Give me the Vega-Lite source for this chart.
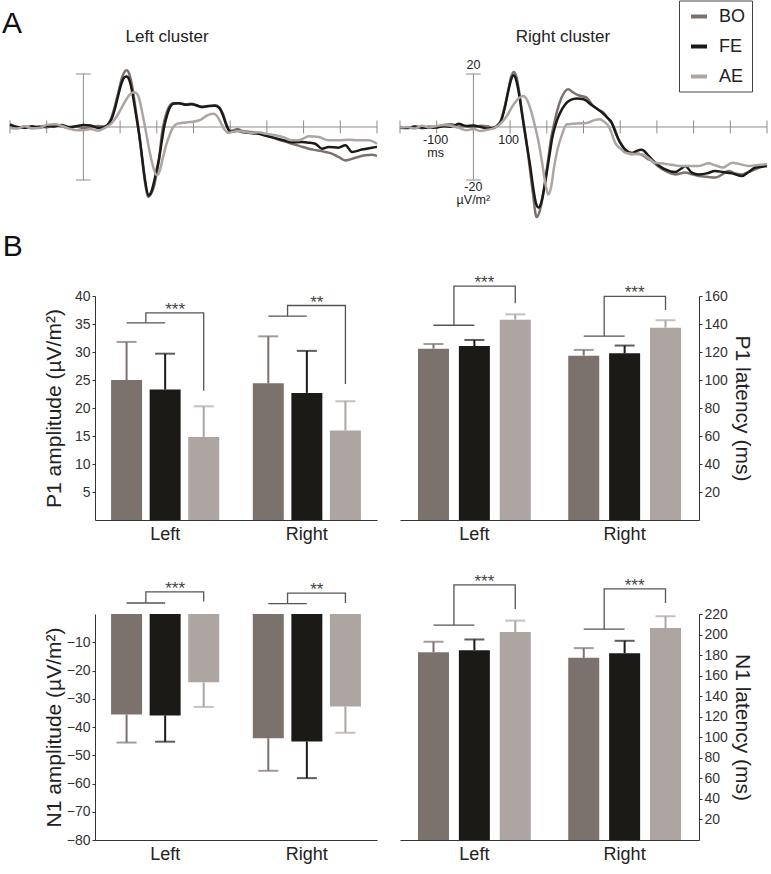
{
"$schema": "https://vega.github.io/schema/vega-lite/v6.json",
"padding": {"left": 1, "top": 0, "right": 2, "bottom": 2},
"config": {"font": "Liberation Sans", "view": {"stroke": null}, "axis": {"grid": false, "labelOverlap": false}},
"columns": 2,
"bounds": "flush",
"align": {"row": "each", "column": "none"},
"spacing": {"row": 94, "column": 13},
"resolve": {"scale": {"color": "shared", "xOffset": "independent"}, "legend": {"color": "independent"}},
"datasets": {
"erp": [
{"c":"L","k":"BO","t":-200,"v":0.5},{"c":"L","k":"BO","t":-180,"v":-0.3},{"c":"L","k":"BO","t":-160,"v":0.2},{"c":"L","k":"BO","t":-140,"v":-0.5},{"c":"L","k":"BO","t":-120,"v":0.3},{"c":"L","k":"BO","t":-100,"v":-0.2},{"c":"L","k":"BO","t":-80,"v":0.6},{"c":"L","k":"BO","t":-60,"v":0.3},{"c":"L","k":"BO","t":-40,"v":-0.4},{"c":"L","k":"BO","t":-20,"v":0.2},{"c":"L","k":"BO","t":0,"v":-0.5},{"c":"L","k":"BO","t":20,"v":-0.2},{"c":"L","k":"BO","t":40,"v":0.4},{"c":"L","k":"BO","t":55,"v":0.2},{"c":"L","k":"BO","t":65,"v":0.8},{"c":"L","k":"BO","t":75,"v":3},{"c":"L","k":"BO","t":85,"v":7.5},{"c":"L","k":"BO","t":95,"v":13},{"c":"L","k":"BO","t":105,"v":18.5},{"c":"L","k":"BO","t":112,"v":20.8},{"c":"L","k":"BO","t":118,"v":21.4},{"c":"L","k":"BO","t":125,"v":20},{"c":"L","k":"BO","t":132,"v":16},{"c":"L","k":"BO","t":140,"v":9},{"c":"L","k":"BO","t":147,"v":2.5},{"c":"L","k":"BO","t":153,"v":-3.5},{"c":"L","k":"BO","t":160,"v":-12},{"c":"L","k":"BO","t":168,"v":-21},{"c":"L","k":"BO","t":177,"v":-26.4},{"c":"L","k":"BO","t":185,"v":-25},{"c":"L","k":"BO","t":192,"v":-22.6},{"c":"L","k":"BO","t":200,"v":-17},{"c":"L","k":"BO","t":206,"v":-12.6},{"c":"L","k":"BO","t":214,"v":-2.5},{"c":"L","k":"BO","t":220,"v":2},{"c":"L","k":"BO","t":228,"v":6},{"c":"L","k":"BO","t":236,"v":8.2},{"c":"L","k":"BO","t":245,"v":9.1},{"c":"L","k":"BO","t":260,"v":9},{"c":"L","k":"BO","t":280,"v":8.6},{"c":"L","k":"BO","t":295,"v":8.8},{"c":"L","k":"BO","t":310,"v":8},{"c":"L","k":"BO","t":323,"v":7.5},{"c":"L","k":"BO","t":340,"v":7.8},{"c":"L","k":"BO","t":359,"v":8.2},{"c":"L","k":"BO","t":370,"v":7.5},{"c":"L","k":"BO","t":380,"v":5},{"c":"L","k":"BO","t":390,"v":1},{"c":"L","k":"BO","t":400,"v":-1.5},{"c":"L","k":"BO","t":410,"v":-1.2},{"c":"L","k":"BO","t":420,"v":-0.8},{"c":"L","k":"BO","t":432,"v":-1.5},{"c":"L","k":"BO","t":450,"v":-1.8},{"c":"L","k":"BO","t":477,"v":-2.3},{"c":"L","k":"BO","t":500,"v":-3},{"c":"L","k":"BO","t":523,"v":-4.4},{"c":"L","k":"BO","t":545,"v":-5.3},{"c":"L","k":"BO","t":568,"v":-6.3},{"c":"L","k":"BO","t":590,"v":-7.2},{"c":"L","k":"BO","t":614,"v":-8.2},{"c":"L","k":"BO","t":636,"v":-8.8},{"c":"L","k":"BO","t":659,"v":-9.4},{"c":"L","k":"BO","t":680,"v":-10.2},{"c":"L","k":"BO","t":695,"v":-11.3},{"c":"L","k":"BO","t":714,"v":-12.6},{"c":"L","k":"BO","t":741,"v":-11.6},{"c":"L","k":"BO","t":768,"v":-10.7},{"c":"L","k":"BO","t":785,"v":-10.5},{"c":"L","k":"BO","t":800,"v":-10.9},
{"c":"L","k":"FE","t":-200,"v":1},{"c":"L","k":"FE","t":-180,"v":0},{"c":"L","k":"FE","t":-160,"v":-0.3},{"c":"L","k":"FE","t":-140,"v":0.3},{"c":"L","k":"FE","t":-120,"v":-0.2},{"c":"L","k":"FE","t":-100,"v":0.4},{"c":"L","k":"FE","t":-80,"v":0.2},{"c":"L","k":"FE","t":-60,"v":0.8},{"c":"L","k":"FE","t":-40,"v":0},{"c":"L","k":"FE","t":-20,"v":0.3},{"c":"L","k":"FE","t":0,"v":0.8},{"c":"L","k":"FE","t":20,"v":0.6},{"c":"L","k":"FE","t":40,"v":-0.4},{"c":"L","k":"FE","t":55,"v":-0.1},{"c":"L","k":"FE","t":65,"v":0.6},{"c":"L","k":"FE","t":75,"v":2.5},{"c":"L","k":"FE","t":85,"v":6.5},{"c":"L","k":"FE","t":95,"v":12},{"c":"L","k":"FE","t":105,"v":17},{"c":"L","k":"FE","t":112,"v":18.8},{"c":"L","k":"FE","t":118,"v":19.1},{"c":"L","k":"FE","t":125,"v":17.8},{"c":"L","k":"FE","t":132,"v":14},{"c":"L","k":"FE","t":140,"v":7.5},{"c":"L","k":"FE","t":147,"v":1.5},{"c":"L","k":"FE","t":153,"v":-4},{"c":"L","k":"FE","t":160,"v":-11.5},{"c":"L","k":"FE","t":168,"v":-20},{"c":"L","k":"FE","t":177,"v":-25.8},{"c":"L","k":"FE","t":185,"v":-24.5},{"c":"L","k":"FE","t":192,"v":-21},{"c":"L","k":"FE","t":200,"v":-16},{"c":"L","k":"FE","t":206,"v":-12},{"c":"L","k":"FE","t":214,"v":-5},{"c":"L","k":"FE","t":220,"v":0},{"c":"L","k":"FE","t":228,"v":4.5},{"c":"L","k":"FE","t":236,"v":7.5},{"c":"L","k":"FE","t":245,"v":8.8},{"c":"L","k":"FE","t":260,"v":9},{"c":"L","k":"FE","t":280,"v":8.4},{"c":"L","k":"FE","t":295,"v":8.6},{"c":"L","k":"FE","t":310,"v":8.1},{"c":"L","k":"FE","t":323,"v":7.6},{"c":"L","k":"FE","t":340,"v":7.9},{"c":"L","k":"FE","t":359,"v":8},{"c":"L","k":"FE","t":370,"v":7.2},{"c":"L","k":"FE","t":380,"v":4.5},{"c":"L","k":"FE","t":390,"v":0.5},{"c":"L","k":"FE","t":400,"v":-1.8},{"c":"L","k":"FE","t":410,"v":-1.7},{"c":"L","k":"FE","t":420,"v":-1.4},{"c":"L","k":"FE","t":432,"v":-1.9},{"c":"L","k":"FE","t":450,"v":-2.2},{"c":"L","k":"FE","t":477,"v":-2.6},{"c":"L","k":"FE","t":500,"v":-3.4},{"c":"L","k":"FE","t":523,"v":-4.2},{"c":"L","k":"FE","t":545,"v":-5},{"c":"L","k":"FE","t":568,"v":-5.8},{"c":"L","k":"FE","t":595,"v":-5.7},{"c":"L","k":"FE","t":614,"v":-5.9},{"c":"L","k":"FE","t":632,"v":-6.3},{"c":"L","k":"FE","t":650,"v":-8.2},{"c":"L","k":"FE","t":668,"v":-7.5},{"c":"L","k":"FE","t":695,"v":-7.8},{"c":"L","k":"FE","t":714,"v":-6.9},{"c":"L","k":"FE","t":732,"v":-9.4},{"c":"L","k":"FE","t":759,"v":-8.5},{"c":"L","k":"FE","t":786,"v":-7.8},{"c":"L","k":"FE","t":800,"v":-7.5},
{"c":"L","k":"AE","t":-200,"v":-0.4},{"c":"L","k":"AE","t":-180,"v":-0.6},{"c":"L","k":"AE","t":-160,"v":0.3},{"c":"L","k":"AE","t":-140,"v":-0.5},{"c":"L","k":"AE","t":-120,"v":-0.4},{"c":"L","k":"AE","t":-100,"v":0.8},{"c":"L","k":"AE","t":-80,"v":1},{"c":"L","k":"AE","t":-60,"v":0.5},{"c":"L","k":"AE","t":-40,"v":-0.6},{"c":"L","k":"AE","t":-20,"v":-1.2},{"c":"L","k":"AE","t":0,"v":-1.2},{"c":"L","k":"AE","t":20,"v":-0.8},{"c":"L","k":"AE","t":40,"v":-1.4},{"c":"L","k":"AE","t":55,"v":-0.6},{"c":"L","k":"AE","t":65,"v":0.2},{"c":"L","k":"AE","t":75,"v":1.2},{"c":"L","k":"AE","t":85,"v":2.8},{"c":"L","k":"AE","t":95,"v":5},{"c":"L","k":"AE","t":105,"v":7.5},{"c":"L","k":"AE","t":115,"v":10},{"c":"L","k":"AE","t":125,"v":12},{"c":"L","k":"AE","t":135,"v":13},{"c":"L","k":"AE","t":141,"v":13},{"c":"L","k":"AE","t":150,"v":11.5},{"c":"L","k":"AE","t":158,"v":7},{"c":"L","k":"AE","t":168,"v":0},{"c":"L","k":"AE","t":180,"v":-9},{"c":"L","k":"AE","t":190,"v":-15},{"c":"L","k":"AE","t":200,"v":-18.2},{"c":"L","k":"AE","t":208,"v":-16.5},{"c":"L","k":"AE","t":216,"v":-12},{"c":"L","k":"AE","t":225,"v":-7},{"c":"L","k":"AE","t":235,"v":-3},{"c":"L","k":"AE","t":245,"v":0},{"c":"L","k":"AE","t":255,"v":1.2},{"c":"L","k":"AE","t":270,"v":1.6},{"c":"L","k":"AE","t":285,"v":1.8},{"c":"L","k":"AE","t":300,"v":2},{"c":"L","k":"AE","t":320,"v":2.8},{"c":"L","k":"AE","t":335,"v":4.2},{"c":"L","k":"AE","t":345,"v":4.8},{"c":"L","k":"AE","t":355,"v":5},{"c":"L","k":"AE","t":365,"v":4},{"c":"L","k":"AE","t":375,"v":1.5},{"c":"L","k":"AE","t":385,"v":-1},{"c":"L","k":"AE","t":395,"v":-2.2},{"c":"L","k":"AE","t":405,"v":-1.9},{"c":"L","k":"AE","t":420,"v":-1.5},{"c":"L","k":"AE","t":440,"v":-1.9},{"c":"L","k":"AE","t":460,"v":-2.2},{"c":"L","k":"AE","t":477,"v":-2},{"c":"L","k":"AE","t":500,"v":-2.6},{"c":"L","k":"AE","t":523,"v":-3.1},{"c":"L","k":"AE","t":545,"v":-3.8},{"c":"L","k":"AE","t":568,"v":-5},{"c":"L","k":"AE","t":586,"v":-5},{"c":"L","k":"AE","t":600,"v":-4.3},{"c":"L","k":"AE","t":614,"v":-3.5},{"c":"L","k":"AE","t":641,"v":-3.8},{"c":"L","k":"AE","t":668,"v":-5},{"c":"L","k":"AE","t":695,"v":-5},{"c":"L","k":"AE","t":723,"v":-4.8},{"c":"L","k":"AE","t":750,"v":-5},{"c":"L","k":"AE","t":777,"v":-5},{"c":"L","k":"AE","t":800,"v":-6.3},
{"c":"R","k":"BO","t":-200,"v":0},{"c":"R","k":"BO","t":-180,"v":-0.3},{"c":"R","k":"BO","t":-160,"v":0},{"c":"R","k":"BO","t":-140,"v":-0.5},{"c":"R","k":"BO","t":-120,"v":0.2},{"c":"R","k":"BO","t":-100,"v":0},{"c":"R","k":"BO","t":-80,"v":0.8},{"c":"R","k":"BO","t":-60,"v":1},{"c":"R","k":"BO","t":-40,"v":0.2},{"c":"R","k":"BO","t":-20,"v":0.3},{"c":"R","k":"BO","t":0,"v":-0.2},{"c":"R","k":"BO","t":20,"v":0.5},{"c":"R","k":"BO","t":40,"v":0.2},{"c":"R","k":"BO","t":55,"v":-0.5},{"c":"R","k":"BO","t":65,"v":0.5},{"c":"R","k":"BO","t":75,"v":2.5},{"c":"R","k":"BO","t":85,"v":7.5},{"c":"R","k":"BO","t":95,"v":14},{"c":"R","k":"BO","t":103,"v":19},{"c":"R","k":"BO","t":110,"v":20.8},{"c":"R","k":"BO","t":117,"v":19},{"c":"R","k":"BO","t":125,"v":13},{"c":"R","k":"BO","t":133,"v":5},{"c":"R","k":"BO","t":140,"v":-1},{"c":"R","k":"BO","t":147,"v":-8},{"c":"R","k":"BO","t":155,"v":-17},{"c":"R","k":"BO","t":163,"v":-26},{"c":"R","k":"BO","t":172,"v":-34},{"c":"R","k":"BO","t":180,"v":-32},{"c":"R","k":"BO","t":188,"v":-27},{"c":"R","k":"BO","t":196,"v":-20},{"c":"R","k":"BO","t":204,"v":-12},{"c":"R","k":"BO","t":212,"v":-4},{"c":"R","k":"BO","t":218,"v":0},{"c":"R","k":"BO","t":228,"v":6},{"c":"R","k":"BO","t":240,"v":11},{"c":"R","k":"BO","t":250,"v":13.5},{"c":"R","k":"BO","t":259,"v":14.2},{"c":"R","k":"BO","t":270,"v":13.2},{"c":"R","k":"BO","t":285,"v":12},{"c":"R","k":"BO","t":300,"v":11.5},{"c":"R","k":"BO","t":309,"v":11},{"c":"R","k":"BO","t":323,"v":8.5},{"c":"R","k":"BO","t":340,"v":6.5},{"c":"R","k":"BO","t":354,"v":5.5},{"c":"R","k":"BO","t":365,"v":3.5},{"c":"R","k":"BO","t":377,"v":1.6},{"c":"R","k":"BO","t":387,"v":-1.5},{"c":"R","k":"BO","t":395,"v":-4.7},{"c":"R","k":"BO","t":405,"v":-7},{"c":"R","k":"BO","t":414,"v":-9},{"c":"R","k":"BO","t":432,"v":-10.3},{"c":"R","k":"BO","t":445,"v":-10},{"c":"R","k":"BO","t":459,"v":-10.5},{"c":"R","k":"BO","t":475,"v":-12},{"c":"R","k":"BO","t":486,"v":-12.8},{"c":"R","k":"BO","t":505,"v":-15},{"c":"R","k":"BO","t":523,"v":-16.6},{"c":"R","k":"BO","t":550,"v":-17.9},{"c":"R","k":"BO","t":577,"v":-17.2},{"c":"R","k":"BO","t":595,"v":-17.8},{"c":"R","k":"BO","t":614,"v":-18.5},{"c":"R","k":"BO","t":636,"v":-18.8},{"c":"R","k":"BO","t":659,"v":-19.1},{"c":"R","k":"BO","t":677,"v":-18},{"c":"R","k":"BO","t":695,"v":-16.6},{"c":"R","k":"BO","t":714,"v":-17.5},{"c":"R","k":"BO","t":732,"v":-17.9},{"c":"R","k":"BO","t":750,"v":-17},{"c":"R","k":"BO","t":768,"v":-16},{"c":"R","k":"BO","t":785,"v":-15},{"c":"R","k":"BO","t":800,"v":-14.1},
{"c":"R","k":"FE","t":-200,"v":-0.3},{"c":"R","k":"FE","t":-180,"v":-0.4},{"c":"R","k":"FE","t":-160,"v":0.2},{"c":"R","k":"FE","t":-140,"v":-0.2},{"c":"R","k":"FE","t":-120,"v":-0.3},{"c":"R","k":"FE","t":-100,"v":-0.2},{"c":"R","k":"FE","t":-80,"v":0.3},{"c":"R","k":"FE","t":-60,"v":0.1},{"c":"R","k":"FE","t":-40,"v":1.2},{"c":"R","k":"FE","t":-20,"v":0.4},{"c":"R","k":"FE","t":0,"v":0.6},{"c":"R","k":"FE","t":20,"v":0},{"c":"R","k":"FE","t":40,"v":-0.6},{"c":"R","k":"FE","t":55,"v":-0.3},{"c":"R","k":"FE","t":65,"v":0.5},{"c":"R","k":"FE","t":75,"v":2.2},{"c":"R","k":"FE","t":85,"v":7},{"c":"R","k":"FE","t":95,"v":13.5},{"c":"R","k":"FE","t":103,"v":18},{"c":"R","k":"FE","t":109,"v":19.5},{"c":"R","k":"FE","t":117,"v":17.5},{"c":"R","k":"FE","t":125,"v":12},{"c":"R","k":"FE","t":133,"v":4.5},{"c":"R","k":"FE","t":140,"v":-2},{"c":"R","k":"FE","t":147,"v":-8},{"c":"R","k":"FE","t":155,"v":-15},{"c":"R","k":"FE","t":163,"v":-23},{"c":"R","k":"FE","t":170,"v":-28.5},{"c":"R","k":"FE","t":177,"v":-30.4},{"c":"R","k":"FE","t":185,"v":-28.5},{"c":"R","k":"FE","t":193,"v":-23},{"c":"R","k":"FE","t":200,"v":-17},{"c":"R","k":"FE","t":208,"v":-10},{"c":"R","k":"FE","t":215,"v":-4},{"c":"R","k":"FE","t":222,"v":0},{"c":"R","k":"FE","t":235,"v":5},{"c":"R","k":"FE","t":250,"v":8.5},{"c":"R","k":"FE","t":265,"v":10.2},{"c":"R","k":"FE","t":282,"v":10.8},{"c":"R","k":"FE","t":300,"v":10.5},{"c":"R","k":"FE","t":323,"v":8.2},{"c":"R","k":"FE","t":350,"v":5.5},{"c":"R","k":"FE","t":365,"v":3.5},{"c":"R","k":"FE","t":377,"v":1.6},{"c":"R","k":"FE","t":387,"v":-2},{"c":"R","k":"FE","t":395,"v":-4.5},{"c":"R","k":"FE","t":405,"v":-7},{"c":"R","k":"FE","t":414,"v":-8.5},{"c":"R","k":"FE","t":432,"v":-9.8},{"c":"R","k":"FE","t":445,"v":-9},{"c":"R","k":"FE","t":459,"v":-8.6},{"c":"R","k":"FE","t":475,"v":-10.5},{"c":"R","k":"FE","t":486,"v":-12.2},{"c":"R","k":"FE","t":505,"v":-14.5},{"c":"R","k":"FE","t":523,"v":-16},{"c":"R","k":"FE","t":550,"v":-17},{"c":"R","k":"FE","t":568,"v":-15.5},{"c":"R","k":"FE","t":577,"v":-14.7},{"c":"R","k":"FE","t":595,"v":-17.2},{"c":"R","k":"FE","t":614,"v":-17.9},{"c":"R","k":"FE","t":636,"v":-17.5},{"c":"R","k":"FE","t":659,"v":-16.6},{"c":"R","k":"FE","t":680,"v":-17},{"c":"R","k":"FE","t":705,"v":-17.5},{"c":"R","k":"FE","t":732,"v":-18.5},{"c":"R","k":"FE","t":750,"v":-17},{"c":"R","k":"FE","t":768,"v":-15.3},{"c":"R","k":"FE","t":785,"v":-15},{"c":"R","k":"FE","t":800,"v":-14.7},
{"c":"R","k":"AE","t":-200,"v":-0.2},{"c":"R","k":"AE","t":-180,"v":0},{"c":"R","k":"AE","t":-160,"v":-0.6},{"c":"R","k":"AE","t":-140,"v":0.5},{"c":"R","k":"AE","t":-120,"v":-0.2},{"c":"R","k":"AE","t":-100,"v":0.4},{"c":"R","k":"AE","t":-80,"v":0.8},{"c":"R","k":"AE","t":-60,"v":0.4},{"c":"R","k":"AE","t":-40,"v":-0.3},{"c":"R","k":"AE","t":-20,"v":-1.2},{"c":"R","k":"AE","t":0,"v":-0.8},{"c":"R","k":"AE","t":20,"v":-1.5},{"c":"R","k":"AE","t":40,"v":-1},{"c":"R","k":"AE","t":55,"v":-0.5},{"c":"R","k":"AE","t":65,"v":0.3},{"c":"R","k":"AE","t":75,"v":1.5},{"c":"R","k":"AE","t":85,"v":3},{"c":"R","k":"AE","t":95,"v":5},{"c":"R","k":"AE","t":105,"v":7.5},{"c":"R","k":"AE","t":115,"v":9.5},{"c":"R","k":"AE","t":125,"v":11},{"c":"R","k":"AE","t":136,"v":11.7},{"c":"R","k":"AE","t":145,"v":10.5},{"c":"R","k":"AE","t":155,"v":7},{"c":"R","k":"AE","t":165,"v":2},{"c":"R","k":"AE","t":175,"v":-4},{"c":"R","k":"AE","t":182,"v":-9},{"c":"R","k":"AE","t":190,"v":-16},{"c":"R","k":"AE","t":197,"v":-22},{"c":"R","k":"AE","t":204,"v":-25.4},{"c":"R","k":"AE","t":212,"v":-22.5},{"c":"R","k":"AE","t":220,"v":-15},{"c":"R","k":"AE","t":230,"v":-8},{"c":"R","k":"AE","t":240,"v":-3.5},{"c":"R","k":"AE","t":254,"v":1},{"c":"R","k":"AE","t":270,"v":1.2},{"c":"R","k":"AE","t":290,"v":1.4},{"c":"R","k":"AE","t":309,"v":1.5},{"c":"R","k":"AE","t":330,"v":2.6},{"c":"R","k":"AE","t":345,"v":2.9},{"c":"R","k":"AE","t":358,"v":1.8},{"c":"R","k":"AE","t":368,"v":0.4},{"c":"R","k":"AE","t":377,"v":-2.5},{"c":"R","k":"AE","t":386,"v":-5.9},{"c":"R","k":"AE","t":400,"v":-8},{"c":"R","k":"AE","t":414,"v":-9.7},{"c":"R","k":"AE","t":440,"v":-10.2},{"c":"R","k":"AE","t":459,"v":-10.3},{"c":"R","k":"AE","t":480,"v":-12},{"c":"R","k":"AE","t":495,"v":-13.5},{"c":"R","k":"AE","t":515,"v":-13.8},{"c":"R","k":"AE","t":532,"v":-14.1},{"c":"R","k":"AE","t":550,"v":-14.5},{"c":"R","k":"AE","t":568,"v":-14.7},{"c":"R","k":"AE","t":590,"v":-14.7},{"c":"R","k":"AE","t":614,"v":-14.7},{"c":"R","k":"AE","t":641,"v":-13.7},{"c":"R","k":"AE","t":660,"v":-14.5},{"c":"R","k":"AE","t":680,"v":-15.3},{"c":"R","k":"AE","t":705,"v":-13.5},{"c":"R","k":"AE","t":725,"v":-14},{"c":"R","k":"AE","t":750,"v":-14.7},{"c":"R","k":"AE","t":775,"v":-14.3},{"c":"R","k":"AE","t":800,"v":-14.1}
],
"ticks": [{"t":-200},{"t":-100},{"t":0},{"t":100},{"t":200},{"t":300},{"t":400},{"t":500},{"t":600},{"t":700},{"t":800}],
"caps": [{"v":-20},{"v":20}],
"bars": [
{"m":"P1amp","region":"Left","cond":"BO","value":25.0,"err":31.8},{"m":"P1amp","region":"Left","cond":"FE","value":23.3,"err":29.7},{"m":"P1amp","region":"Left","cond":"AE","value":14.8,"err":20.3},
{"m":"P1amp","region":"Right","cond":"BO","value":24.4,"err":32.8},{"m":"P1amp","region":"Right","cond":"FE","value":22.7,"err":30.2},{"m":"P1amp","region":"Right","cond":"AE","value":16.0,"err":21.2},
{"m":"P1lat","region":"Left","cond":"BO","value":122.4,"err":125.8},{"m":"P1lat","region":"Left","cond":"FE","value":124.3,"err":128.6},{"m":"P1lat","region":"Left","cond":"AE","value":143.1,"err":146.9},
{"m":"P1lat","region":"Right","cond":"BO","value":117.4,"err":121.5},{"m":"P1lat","region":"Right","cond":"FE","value":119.1,"err":124.6},{"m":"P1lat","region":"Right","cond":"AE","value":137.4,"err":142.6},
{"m":"N1amp","region":"Left","cond":"BO","value":-35.6,"err":-45.5},{"m":"N1amp","region":"Left","cond":"FE","value":-35.9,"err":-45.2},{"m":"N1amp","region":"Left","cond":"AE","value":-24.2,"err":-32.9},
{"m":"N1amp","region":"Right","cond":"BO","value":-44.0,"err":-55.5},{"m":"N1amp","region":"Right","cond":"FE","value":-45.1,"err":-58.1},{"m":"N1amp","region":"Right","cond":"AE","value":-32.7,"err":-42.0},
{"m":"N1lat","region":"Left","cond":"BO","value":182.8,"err":192.9},{"m":"N1lat","region":"Left","cond":"FE","value":184.8,"err":195.2},{"m":"N1lat","region":"Left","cond":"AE","value":202.4,"err":213.5},
{"m":"N1lat","region":"Right","cond":"BO","value":177.3,"err":186.8},{"m":"N1lat","region":"Right","cond":"FE","value":181.9,"err":193.9},{"m":"N1lat","region":"Right","cond":"AE","value":206.3,"err":217.7}
],
"br": [
{"m":"P1amp","region":"Left","pt":"BO","y":35.2,"ord":1},{"m":"P1amp","region":"Left","pt":"FE","y":35.2,"ord":2},{"m":"P1amp","region":"Left","pt":"BF","y":35.2,"ord":3},{"m":"P1amp","region":"Left","pt":"BF","y":37.0,"ord":4},{"m":"P1amp","region":"Left","pt":"AE","y":37.0,"ord":5},{"m":"P1amp","region":"Left","pt":"AE","y":23.1,"ord":6},
{"m":"P1amp","region":"Right","pt":"BO","y":36.4,"ord":1},{"m":"P1amp","region":"Right","pt":"FE","y":36.4,"ord":2},{"m":"P1amp","region":"Right","pt":"BF","y":36.4,"ord":3},{"m":"P1amp","region":"Right","pt":"BF","y":38.3,"ord":4},{"m":"P1amp","region":"Right","pt":"AE","y":38.3,"ord":5},{"m":"P1amp","region":"Right","pt":"AE","y":24.3,"ord":6},
{"m":"P1lat","region":"Left","pt":"BO","y":139.1,"ord":1},{"m":"P1lat","region":"Left","pt":"FE","y":139.1,"ord":2},{"m":"P1lat","region":"Left","pt":"BF","y":139.1,"ord":3},{"m":"P1lat","region":"Left","pt":"BF","y":167.1,"ord":4},{"m":"P1lat","region":"Left","pt":"AE","y":167.1,"ord":5},{"m":"P1lat","region":"Left","pt":"AE","y":154.8,"ord":6},
{"m":"P1lat","region":"Right","pt":"BO","y":131.4,"ord":1},{"m":"P1lat","region":"Right","pt":"FE","y":131.4,"ord":2},{"m":"P1lat","region":"Right","pt":"BF","y":131.4,"ord":3},{"m":"P1lat","region":"Right","pt":"BF","y":159.8,"ord":4},{"m":"P1lat","region":"Right","pt":"AE","y":159.8,"ord":5},{"m":"P1lat","region":"Right","pt":"AE","y":150.0,"ord":6},
{"m":"N1amp","region":"Left","pt":"BO","y":3.9,"ord":1},{"m":"N1amp","region":"Left","pt":"FE","y":3.9,"ord":2},{"m":"N1amp","region":"Left","pt":"BF","y":3.9,"ord":3},{"m":"N1amp","region":"Left","pt":"BF","y":7.8,"ord":4},{"m":"N1amp","region":"Left","pt":"AE","y":7.8,"ord":5},{"m":"N1amp","region":"Left","pt":"AE","y":4.4,"ord":6},
{"m":"N1amp","region":"Right","pt":"BO","y":3.7,"ord":1},{"m":"N1amp","region":"Right","pt":"FE","y":3.7,"ord":2},{"m":"N1amp","region":"Right","pt":"BF","y":3.7,"ord":3},{"m":"N1amp","region":"Right","pt":"BF","y":7.4,"ord":4},{"m":"N1amp","region":"Right","pt":"AE","y":7.4,"ord":5},{"m":"N1amp","region":"Right","pt":"AE","y":3.9,"ord":6},
{"m":"N1lat","region":"Left","pt":"BO","y":209.2,"ord":1},{"m":"N1lat","region":"Left","pt":"FE","y":209.2,"ord":2},{"m":"N1lat","region":"Left","pt":"BF","y":209.2,"ord":3},{"m":"N1lat","region":"Left","pt":"BF","y":248.4,"ord":4},{"m":"N1lat","region":"Left","pt":"AE","y":248.4,"ord":5},{"m":"N1lat","region":"Left","pt":"AE","y":224.9,"ord":6},
{"m":"N1lat","region":"Right","pt":"BO","y":205.3,"ord":1},{"m":"N1lat","region":"Right","pt":"FE","y":205.3,"ord":2},{"m":"N1lat","region":"Right","pt":"BF","y":205.3,"ord":3},{"m":"N1lat","region":"Right","pt":"BF","y":244.4,"ord":4},{"m":"N1lat","region":"Right","pt":"AE","y":244.4,"ord":5},{"m":"N1lat","region":"Right","pt":"AE","y":230.8,"ord":6}
],
"st": [
{"m":"P1amp","region":"Left","pt":"FE","y":37.0,"label":"***"},{"m":"P1amp","region":"Right","pt":"FE","y":38.3,"label":"**"},
{"m":"P1lat","region":"Left","pt":"FE","y":167.1,"label":"***"},{"m":"P1lat","region":"Right","pt":"FE","y":159.8,"label":"***"},
{"m":"N1amp","region":"Left","pt":"FE","y":7.8,"label":"***"},{"m":"N1amp","region":"Right","pt":"FE","y":7.4,"label":"**"},
{"m":"N1lat","region":"Left","pt":"FE","y":248.4,"label":"***"},{"m":"N1lat","region":"Right","pt":"FE","y":244.4,"label":"***"}
]
},
"concat": [
{
"width": 292, "height": 128,
"layer": [
{"data": {"values": [{}]}, "mark": {"type": "rule", "color": "#8c8c8c", "strokeWidth": 1},
 "encoding": {"x": {"datum": -200, "type": "quantitative", "scale": {"domain": [-200, 800], "range": [-85, 282], "nice": false, "zero": false}, "axis": null}, "x2": {"datum": 800}, "y": {"datum": 0, "type": "quantitative", "scale": {"domain": [-28.3, 20], "nice": false, "zero": false}, "axis": null}}},
{"data": {"name": "ticks"}, "mark": {"type": "rule", "color": "#8c8c8c", "strokeWidth": 1},
 "encoding": {"x": {"field": "t", "type": "quantitative", "axis": null}, "y": {"datum": -2.45, "type": "quantitative", "axis": null}, "y2": {"datum": 2.45}}},
{"data": {"values": [{}]}, "mark": {"type": "rule", "color": "#8c8c8c", "strokeWidth": 1},
 "encoding": {"x": {"datum": 0, "type": "quantitative", "axis": null}, "y": {"datum": -20, "type": "quantitative", "axis": null}, "y2": {"datum": 20}}},
{"data": {"name": "caps"}, "mark": {"type": "rule", "color": "#8c8c8c", "strokeWidth": 1},
 "encoding": {"x": {"datum": -20, "type": "quantitative", "axis": null}, "x2": {"datum": 20}, "y": {"field": "v", "type": "quantitative", "axis": null}}},
{"data": {"name": "erp"}, "transform": [{"filter": {"field": "c", "equal": "L"}}],
 "mark": {"type": "line", "strokeWidth": 2.5, "interpolate": "monotone"},
 "encoding": {"x": {"field": "t", "type": "quantitative", "axis": null}, "y": {"field": "v", "type": "quantitative", "axis": null},
  "color": {"field": "k", "type": "nominal", "scale": {"domain": ["BO", "FE", "AE"], "range": ["#7b726e", "#1b1a17", "#aca5a1"]}, "legend": null}}},
{"data": {"values": [{}]}, "mark": {"type": "text", "text": "Left cluster", "fontSize": 17, "baseline": "alphabetic", "align": "center", "color": "#222"},
 "encoding": {"x": {"datum": 228, "type": "quantitative", "axis": null}, "y": {"datum": 32, "type": "quantitative", "axis": null}}},
{"data": {"values": [{}]}, "mark": {"type": "text", "text": "A", "fontSize": 30, "baseline": "alphabetic", "align": "left", "color": "#111"},
 "encoding": {"x": {"datum": -222, "type": "quantitative", "axis": null}, "y": {"datum": 35.3, "type": "quantitative", "axis": null}}},
{"data": {"values": [{}]}, "mark": {"type": "text", "text": "B", "fontSize": 30, "baseline": "alphabetic", "align": "left", "color": "#111"},
 "encoding": {"x": {"datum": -220, "type": "quantitative", "axis": null}, "y": {"datum": -48.5, "type": "quantitative", "axis": null}}}
]
},
{
"width": 367, "height": 128,
"layer": [
{"data": {"values": [{}]}, "mark": {"type": "rule", "color": "#8c8c8c", "strokeWidth": 1},
 "encoding": {"x": {"datum": -200, "type": "quantitative", "scale": {"domain": [-200, 800], "nice": false, "zero": false}, "axis": null}, "x2": {"datum": 800}, "y": {"datum": 0, "type": "quantitative", "scale": {"domain": [-28.3, 20], "nice": false, "zero": false}, "axis": null}}},
{"data": {"name": "ticks"}, "mark": {"type": "rule", "color": "#8c8c8c", "strokeWidth": 1},
 "encoding": {"x": {"field": "t", "type": "quantitative", "axis": null}, "y": {"datum": -2.45, "type": "quantitative", "axis": null}, "y2": {"datum": 2.45}}},
{"data": {"values": [{}]}, "mark": {"type": "rule", "color": "#8c8c8c", "strokeWidth": 1},
 "encoding": {"x": {"datum": 0, "type": "quantitative", "axis": null}, "y": {"datum": -20, "type": "quantitative", "axis": null}, "y2": {"datum": 20}}},
{"data": {"name": "caps"}, "mark": {"type": "rule", "color": "#8c8c8c", "strokeWidth": 1},
 "encoding": {"x": {"datum": -20, "type": "quantitative", "axis": null}, "x2": {"datum": 20}, "y": {"field": "v", "type": "quantitative", "axis": null}}},
{"data": {"name": "erp"}, "transform": [{"filter": {"field": "c", "equal": "R"}}],
 "mark": {"type": "line", "strokeWidth": 2.5, "interpolate": "monotone"},
 "encoding": {"x": {"field": "t", "type": "quantitative", "axis": null}, "y": {"field": "v", "type": "quantitative", "axis": null},
  "color": {"field": "k", "type": "nominal", "scale": {"domain": ["BO", "FE", "AE"], "range": ["#7b726e", "#1b1a17", "#aca5a1"]},
   "legend": {"orient": "none", "legendX": 279, "legendY": -73.5, "title": null, "symbolType": "stroke", "symbolStrokeWidth": 4, "symbolSize": 256, "labelFontSize": 18, "labelColor": "#222", "labelOffset": 10, "rowPadding": 11, "padding": 6, "symbolOffset": 4, "strokeColor": "#444", "fillColor": "white", "cornerRadius": 0}}}},
{"data": {"values": [{}]}, "mark": {"type": "text", "text": "Right cluster", "fontSize": 17, "baseline": "alphabetic", "align": "center", "color": "#222"},
 "encoding": {"x": {"datum": 244, "type": "quantitative", "axis": null}, "y": {"datum": 32, "type": "quantitative", "axis": null}}},
{"data": {"values": [{}]}, "mark": {"type": "text", "text": "20", "fontSize": 12.5, "baseline": "alphabetic", "align": "center", "color": "#222"},
 "encoding": {"x": {"datum": 0, "type": "quantitative", "axis": null}, "y": {"datum": 21.7, "type": "quantitative", "axis": null}}},
{"data": {"values": [{}]}, "mark": {"type": "text", "text": "-20", "fontSize": 12.5, "baseline": "alphabetic", "align": "center", "color": "#222"},
 "encoding": {"x": {"datum": 0, "type": "quantitative", "axis": null}, "y": {"datum": -24.2, "type": "quantitative", "axis": null}}},
{"data": {"values": [{}]}, "mark": {"type": "text", "text": "µV/m²", "fontSize": 12.5, "baseline": "alphabetic", "align": "center", "color": "#222"},
 "encoding": {"x": {"datum": 0, "type": "quantitative", "axis": null}, "y": {"datum": -29.0, "type": "quantitative", "axis": null}}},
{"data": {"values": [{}]}, "mark": {"type": "text", "text": "-100", "fontSize": 12.5, "baseline": "alphabetic", "align": "center", "color": "#222"},
 "encoding": {"x": {"datum": -103, "type": "quantitative", "axis": null}, "y": {"datum": -6.6, "type": "quantitative", "axis": null}}},
{"data": {"values": [{}]}, "mark": {"type": "text", "text": "ms", "fontSize": 12.5, "baseline": "alphabetic", "align": "center", "color": "#222"},
 "encoding": {"x": {"datum": -103, "type": "quantitative", "axis": null}, "y": {"datum": -11.4, "type": "quantitative", "axis": null}}},
{"data": {"values": [{}]}, "mark": {"type": "text", "text": "100", "fontSize": 12.5, "baseline": "alphabetic", "align": "center", "color": "#222"},
 "encoding": {"x": {"datum": 96, "type": "quantitative", "axis": null}, "y": {"datum": -6.6, "type": "quantitative", "axis": null}}}
]
},
{
"width": 282, "height": 224,
"encoding": {"x": {"field": "region", "type": "nominal", "sort": null, "scale": {"domain": ["Left", "Right"], "paddingInner": 0.2, "paddingOuter": 0.095}, "axis": {"title": null, "ticks": false, "tickSize": 0, "labelAngle": 0, "labelFontSize": 18, "labelPadding": 5, "labelColor": "#222", "domainColor": "#333"}}},
"layer": [
{"data": {"name": "bars"}, "transform": [{"filter": {"field": "m", "equal": "P1amp"}}], "mark": {"type": "bar", "width": 31},
 "encoding": {"xOffset": {"field": "cond", "type": "nominal", "scale": {"type": "point", "domain": ["BO", "BF", "FE", "FA", "AE"], "padding": 0.94}},
  "y": {"field": "value", "type": "quantitative", "scale": {"domain": [0, 40], "nice": false, "zero": false}, "axis": {"title": "P1  amplitude (µV/m²)", "values": [5, 10, 15, 20, 25, 30, 35, 40], "tickCount": 50, "labelOverlap": false, "grid": false, "tickSize": 3, "labelPadding": 2, "labelFontSize": 14, "labelColor": "#333", "tickColor": "#333", "domainColor": "#333", "titleFontSize": 21, "titleFontWeight": "normal", "titleColor": "#222", "titlePadding": 10}},
  "color": {"field": "cond", "type": "nominal", "scale": {"domain": ["BO", "FE", "AE"], "range": ["#7b726e", "#1b1a17", "#aca5a1"]}, "legend": null}}},
{"data": {"name": "bars"}, "transform": [{"filter": {"field": "m", "equal": "P1amp"}}], "mark": {"type": "rule", "strokeWidth": 2},
 "encoding": {"xOffset": {"field": "cond", "type": "nominal"}, "y": {"field": "value", "type": "quantitative"}, "y2": {"field": "err"},
  "color": {"field": "cond", "type": "nominal", "scale": {"domain": ["BO", "FE", "AE"], "range": ["#7b726e", "#1b1a17", "#aca5a1"]}, "legend": null}}},
{"data": {"name": "bars"}, "transform": [{"filter": {"field": "m", "equal": "P1amp"}}], "mark": {"type": "tick", "size": 20, "thickness": 2},
 "encoding": {"xOffset": {"field": "cond", "type": "nominal"}, "y": {"field": "err", "type": "quantitative"},
  "color": {"field": "cond", "type": "nominal", "scale": {"domain": ["BO", "FE", "AE"], "range": ["#7b726e", "#1b1a17", "#aca5a1"]}, "legend": null}}},
{"data": {"name": "br"}, "transform": [{"filter": {"field": "m", "equal": "P1amp"}}], "mark": {"type": "line", "color": "#555", "strokeWidth": 1.3},
 "encoding": {"xOffset": {"field": "pt", "type": "nominal"}, "y": {"field": "y", "type": "quantitative"}, "order": {"field": "ord", "type": "quantitative"}, "detail": {"field": "region", "type": "nominal"}}},
{"data": {"name": "st"}, "transform": [{"filter": {"field": "m", "equal": "P1amp"}}], "mark": {"type": "text", "dx": 10, "dy": 2, "baseline": "alphabetic", "fontSize": 17, "color": "#444"},
 "encoding": {"xOffset": {"field": "pt", "type": "nominal"}, "y": {"field": "y", "type": "quantitative"}, "text": {"field": "label"}}}
]
},
{
"width": 299, "height": 224,
"encoding": {"x": {"field": "region", "type": "nominal", "sort": null, "scale": {"domain": ["Left", "Right"], "paddingInner": 0.2, "paddingOuter": 0.095}, "axis": {"title": null, "ticks": false, "tickSize": 0, "labelAngle": 0, "labelFontSize": 18, "labelPadding": 5, "labelColor": "#222", "domainColor": "#333"}}},
"layer": [
{"data": {"name": "bars"}, "transform": [{"filter": {"field": "m", "equal": "P1lat"}}], "mark": {"type": "bar", "width": 31},
 "encoding": {"xOffset": {"field": "cond", "type": "nominal", "scale": {"type": "point", "domain": ["BO", "BF", "FE", "FA", "AE"], "padding": 0.94}},
  "y": {"field": "value", "type": "quantitative", "scale": {"domain": [0, 160], "nice": false, "zero": false}, "axis": {"orient": "right", "title": "P1 latency (ms)", "values": [20, 40, 60, 80, 100, 120, 140, 160], "tickCount": 50, "labelOverlap": false, "grid": false, "tickSize": 3, "labelPadding": 2, "labelFontSize": 14, "labelColor": "#333", "tickColor": "#333", "domainColor": "#333", "titleFontSize": 21, "titleFontWeight": "normal", "titleColor": "#222", "titlePadding": 4}},
  "color": {"field": "cond", "type": "nominal", "scale": {"domain": ["BO", "FE", "AE"], "range": ["#7b726e", "#1b1a17", "#aca5a1"]}, "legend": null}}},
{"data": {"name": "bars"}, "transform": [{"filter": {"field": "m", "equal": "P1lat"}}], "mark": {"type": "rule", "strokeWidth": 2},
 "encoding": {"xOffset": {"field": "cond", "type": "nominal"}, "y": {"field": "value", "type": "quantitative"}, "y2": {"field": "err"},
  "color": {"field": "cond", "type": "nominal", "scale": {"domain": ["BO", "FE", "AE"], "range": ["#7b726e", "#1b1a17", "#aca5a1"]}, "legend": null}}},
{"data": {"name": "bars"}, "transform": [{"filter": {"field": "m", "equal": "P1lat"}}], "mark": {"type": "tick", "size": 20, "thickness": 2},
 "encoding": {"xOffset": {"field": "cond", "type": "nominal"}, "y": {"field": "err", "type": "quantitative"},
  "color": {"field": "cond", "type": "nominal", "scale": {"domain": ["BO", "FE", "AE"], "range": ["#7b726e", "#1b1a17", "#aca5a1"]}, "legend": null}}},
{"data": {"name": "br"}, "transform": [{"filter": {"field": "m", "equal": "P1lat"}}], "mark": {"type": "line", "color": "#555", "strokeWidth": 1.3},
 "encoding": {"xOffset": {"field": "pt", "type": "nominal"}, "y": {"field": "y", "type": "quantitative"}, "order": {"field": "ord", "type": "quantitative"}, "detail": {"field": "region", "type": "nominal"}}},
{"data": {"name": "st"}, "transform": [{"filter": {"field": "m", "equal": "P1lat"}}], "mark": {"type": "text", "dx": 10, "dy": 2, "baseline": "alphabetic", "fontSize": 17, "color": "#444"},
 "encoding": {"xOffset": {"field": "pt", "type": "nominal"}, "y": {"field": "y", "type": "quantitative"}, "text": {"field": "label"}}}
]
},
{
"width": 282, "height": 226,
"encoding": {"x": {"field": "region", "type": "nominal", "sort": null, "scale": {"domain": ["Left", "Right"], "paddingInner": 0.2, "paddingOuter": 0.095}, "axis": {"title": null, "ticks": false, "tickSize": 0, "labelAngle": 0, "labelFontSize": 18, "labelPadding": 5, "labelColor": "#222", "domainColor": "#333"}}},
"layer": [
{"data": {"name": "bars"}, "transform": [{"filter": {"field": "m", "equal": "N1amp"}}], "mark": {"type": "bar", "width": 31},
 "encoding": {"xOffset": {"field": "cond", "type": "nominal", "scale": {"type": "point", "domain": ["BO", "BF", "FE", "FA", "AE"], "padding": 0.94}},
  "y": {"field": "value", "type": "quantitative", "scale": {"domain": [-80, 0], "nice": false}, "axis": {"title": "N1  amplitude (µV/m²)", "values": [-10, -20, -30, -40, -50, -60, -70, -80], "tickCount": 50, "labelOverlap": false, "grid": false, "tickSize": 3, "labelPadding": 2, "labelFontSize": 14, "labelColor": "#333", "tickColor": "#333", "domainColor": "#333", "titleFontSize": 21, "titleFontWeight": "normal", "titleColor": "#222", "titlePadding": 2}},
  "color": {"field": "cond", "type": "nominal", "scale": {"domain": ["BO", "FE", "AE"], "range": ["#7b726e", "#1b1a17", "#aca5a1"]}, "legend": null}}},
{"data": {"name": "bars"}, "transform": [{"filter": {"field": "m", "equal": "N1amp"}}], "mark": {"type": "rule", "strokeWidth": 2},
 "encoding": {"xOffset": {"field": "cond", "type": "nominal"}, "y": {"field": "value", "type": "quantitative"}, "y2": {"field": "err"},
  "color": {"field": "cond", "type": "nominal", "scale": {"domain": ["BO", "FE", "AE"], "range": ["#7b726e", "#1b1a17", "#aca5a1"]}, "legend": null}}},
{"data": {"name": "bars"}, "transform": [{"filter": {"field": "m", "equal": "N1amp"}}], "mark": {"type": "tick", "size": 20, "thickness": 2},
 "encoding": {"xOffset": {"field": "cond", "type": "nominal"}, "y": {"field": "err", "type": "quantitative"},
  "color": {"field": "cond", "type": "nominal", "scale": {"domain": ["BO", "FE", "AE"], "range": ["#7b726e", "#1b1a17", "#aca5a1"]}, "legend": null}}},
{"data": {"values": [{}]}, "mark": {"type": "rule", "color": "#333", "strokeWidth": 1},
 "encoding": {"y": {"datum": 0, "type": "quantitative"}}},
{"data": {"name": "br"}, "transform": [{"filter": {"field": "m", "equal": "N1amp"}}], "mark": {"type": "line", "color": "#555", "strokeWidth": 1.3},
 "encoding": {"xOffset": {"field": "pt", "type": "nominal"}, "y": {"field": "y", "type": "quantitative"}, "order": {"field": "ord", "type": "quantitative"}, "detail": {"field": "region", "type": "nominal"}}},
{"data": {"name": "st"}, "transform": [{"filter": {"field": "m", "equal": "N1amp"}}], "mark": {"type": "text", "dx": 10, "dy": 2, "baseline": "alphabetic", "fontSize": 17, "color": "#444"},
 "encoding": {"xOffset": {"field": "pt", "type": "nominal"}, "y": {"field": "y", "type": "quantitative"}, "text": {"field": "label"}}}
]
},
{
"width": 299, "height": 226,
"encoding": {"x": {"field": "region", "type": "nominal", "sort": null, "scale": {"domain": ["Left", "Right"], "paddingInner": 0.2, "paddingOuter": 0.095}, "axis": {"title": null, "ticks": false, "tickSize": 0, "labelAngle": 0, "labelFontSize": 18, "labelPadding": 5, "labelColor": "#222", "domainColor": "#333"}}},
"layer": [
{"data": {"name": "bars"}, "transform": [{"filter": {"field": "m", "equal": "N1lat"}}], "mark": {"type": "bar", "width": 31},
 "encoding": {"xOffset": {"field": "cond", "type": "nominal", "scale": {"type": "point", "domain": ["BO", "BF", "FE", "FA", "AE"], "padding": 0.94}},
  "y": {"field": "value", "type": "quantitative", "scale": {"domain": [0, 220], "nice": false, "zero": false}, "axis": {"orient": "right", "title": "N1 latency (ms)", "values": [20, 40, 60, 80, 100, 120, 140, 160, 180, 200, 220], "tickCount": 50, "labelOverlap": false, "grid": false, "tickSize": 3, "labelPadding": 2, "labelFontSize": 14, "labelColor": "#333", "tickColor": "#333", "domainColor": "#333", "titleFontSize": 21, "titleFontWeight": "normal", "titleColor": "#222", "titlePadding": 4}},
  "color": {"field": "cond", "type": "nominal", "scale": {"domain": ["BO", "FE", "AE"], "range": ["#7b726e", "#1b1a17", "#aca5a1"]}, "legend": null}}},
{"data": {"name": "bars"}, "transform": [{"filter": {"field": "m", "equal": "N1lat"}}], "mark": {"type": "rule", "strokeWidth": 2},
 "encoding": {"xOffset": {"field": "cond", "type": "nominal"}, "y": {"field": "value", "type": "quantitative"}, "y2": {"field": "err"},
  "color": {"field": "cond", "type": "nominal", "scale": {"domain": ["BO", "FE", "AE"], "range": ["#7b726e", "#1b1a17", "#aca5a1"]}, "legend": null}}},
{"data": {"name": "bars"}, "transform": [{"filter": {"field": "m", "equal": "N1lat"}}], "mark": {"type": "tick", "size": 20, "thickness": 2},
 "encoding": {"xOffset": {"field": "cond", "type": "nominal"}, "y": {"field": "err", "type": "quantitative"},
  "color": {"field": "cond", "type": "nominal", "scale": {"domain": ["BO", "FE", "AE"], "range": ["#7b726e", "#1b1a17", "#aca5a1"]}, "legend": null}}},
{"data": {"name": "br"}, "transform": [{"filter": {"field": "m", "equal": "N1lat"}}], "mark": {"type": "line", "color": "#555", "strokeWidth": 1.3},
 "encoding": {"xOffset": {"field": "pt", "type": "nominal"}, "y": {"field": "y", "type": "quantitative"}, "order": {"field": "ord", "type": "quantitative"}, "detail": {"field": "region", "type": "nominal"}}},
{"data": {"name": "st"}, "transform": [{"filter": {"field": "m", "equal": "N1lat"}}], "mark": {"type": "text", "dx": 10, "dy": 2, "baseline": "alphabetic", "fontSize": 17, "color": "#444"},
 "encoding": {"xOffset": {"field": "pt", "type": "nominal"}, "y": {"field": "y", "type": "quantitative"}, "text": {"field": "label"}}}
]
}
]
}
